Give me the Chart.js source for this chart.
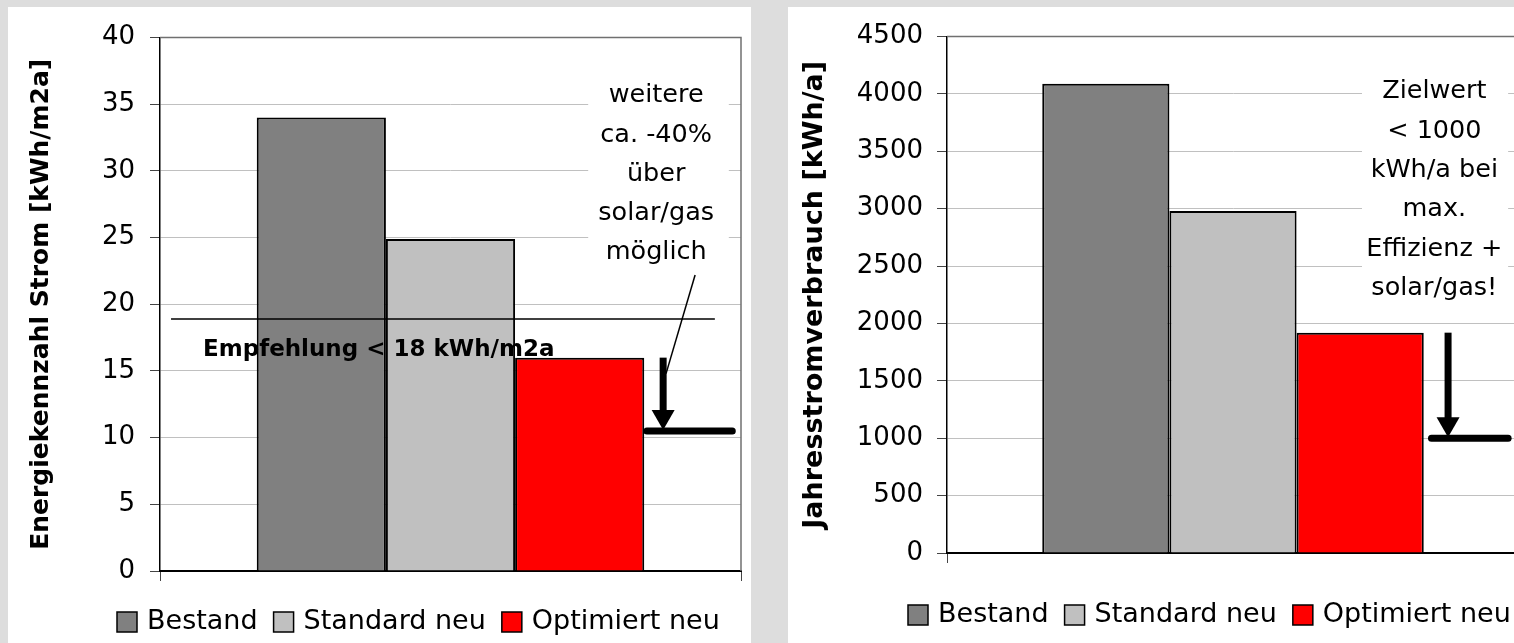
<!DOCTYPE html>
<html>
<head>
<meta charset="utf-8">
<script src="https://cdn.jsdelivr.net/npm/chart.js@4.4.1/dist/chart.umd.min.js"></script>
<style>
  html, body { margin:0; padding:0; background:#dddddd; width:1514px; height:643px; overflow:hidden; }
  .panel { position:absolute; top:7px; height:636px; background:#ffffff; overflow:hidden; }
  #p1 { left:8px; width:743px; }
  #p2 { left:788px; width:726px; }
  canvas { display:block; }
</style>
</head>
<body>
<div id="p1" class="panel"><canvas id="c1" width="743" height="636" style="width:743px;height:636px"></canvas></div>
<div id="p2" class="panel"><canvas id="c2" width="745" height="636" style="width:745px;height:636px"></canvas></div>
<script>
// ---------- data ----------
const categories = [''];
const seriesLabels = ['Bestand', 'Standard neu', 'Optimiert neu'];

const kennzahlValues = [34, 24.9, 16];          // kWh/m2a
const kennzahlTicks = { min: 0, max: 40, step: 5 };
const kennzahlTitle = 'Energiekennzahl Strom [kWh/m2a]';
const empfehlungValue = 18.9;
const empfehlungLabel = 'Empfehlung < 18 kWh/m2a';
const kennzahlTarget = 10.5;
const kennzahlNote = ['weitere', 'ca. -40%', 'über', 'solar/gas', 'möglich'];

const verbrauchValues = [4090, 2980, 1920];     // kWh/a
const verbrauchTicks = { min: 0, max: 4500, step: 500 };
const verbrauchTitle = 'Jahresstromverbrauch [kWh/a]';
const verbrauchTarget = 1000;
const verbrauchNote = ['Zielwert', '< 1000', 'kWh/a bei', 'max.', 'Effizienz +', 'solar/gas!'];

// ---------- styles ----------
const seriesColors = ['#808080', '#c0c0c0', '#ff0000'];
const FONT = "'DejaVu Sans', 'Liberation Sans', Arial, sans-serif";

function makeDatasets(values) {
  return seriesLabels.map((lbl, i) => ({
    label: lbl,
    data: [values[i]],
    backgroundColor: seriesColors[i],
    borderColor: '#000000',
    borderWidth: 2,
    categoryPercentage: 0.667,
    barPercentage: 1.0
  }));
}

function annotPlugin(o) {
  return {
    id: 'annot' + o.key,
    beforeDatasetsDraw(chart) {
      const { ctx, chartArea: a } = chart;
      const w = a.right - a.left;
      ctx.save();
      // plot-area border (top & right)
      ctx.strokeStyle = '#707070';
      ctx.lineWidth = 1.5;
      ctx.beginPath();
      ctx.moveTo(a.left, a.top); ctx.lineTo(a.right, a.top); ctx.lineTo(a.right, a.bottom);
      ctx.stroke();
      // white box behind note
      ctx.fillStyle = '#ffffff';
      const bx0 = a.left + o.box.x0 * w, bx1 = a.left + o.box.x1 * w;
      ctx.fillRect(bx0, a.top + o.box.y0, bx1 - bx0, o.box.y1 - o.box.y0);
      ctx.restore();
    },
    afterDatasetsDraw(chart) {
      const { ctx, chartArea: a, scales } = chart;
      const y = scales.y;
      const w = a.right - a.left;
      const fx = f => a.left + f * w;
      ctx.save();
      // reference line + label
      if (o.ref) {
        const ry = y.getPixelForValue(o.ref.value);
        ctx.strokeStyle = '#000'; ctx.lineWidth = 1.5;
        ctx.beginPath(); ctx.moveTo(fx(o.ref.x0), ry); ctx.lineTo(fx(o.ref.x1), ry); ctx.stroke();
        ctx.fillStyle = '#000';
        ctx.font = 'bold 23px ' + FONT;
        ctx.textAlign = 'left'; ctx.textBaseline = 'alphabetic';
        ctx.fillText(o.ref.label, fx(o.ref.tx), ry + o.ref.dy);
      }
      // leader line
      if (o.leader) {
        ctx.strokeStyle = '#000'; ctx.lineWidth = 1.5;
        ctx.beginPath();
        ctx.moveTo(fx(o.leader.x0), y.getPixelForValue(o.leader.v0));
        ctx.lineTo(fx(o.leader.x1), y.getPixelForValue(o.leader.v1));
        ctx.stroke();
      }
      // arrow from optimised bar top to target
      const ty = y.getPixelForValue(o.target);
      const sy = y.getPixelForValue(o.from);
      const ax = fx(o.arrowX);
      ctx.strokeStyle = '#000'; ctx.fillStyle = '#000';
      ctx.lineWidth = 7; ctx.lineCap = 'butt';
      ctx.beginPath(); ctx.moveTo(ax, sy); ctx.lineTo(ax, ty - 16); ctx.stroke();
      ctx.beginPath(); ctx.moveTo(ax - 11.5, ty - 21); ctx.lineTo(ax + 11.5, ty - 21); ctx.lineTo(ax, ty - 1); ctx.closePath(); ctx.fill();
      // target line
      ctx.lineWidth = 7; ctx.lineCap = 'round';
      ctx.beginPath(); ctx.moveTo(fx(o.tgt.x0), ty); ctx.lineTo(fx(o.tgt.x1), ty); ctx.stroke();
      // note text
      ctx.font = '25.5px ' + FONT;
      ctx.textAlign = 'center'; ctx.textBaseline = 'middle';
      o.note.forEach((t, i) => ctx.fillText(t, fx(o.noteX), a.top + o.noteY0 + i * o.noteDY));
      // legend
      ctx.font = '27px ' + FONT;
      ctx.textAlign = 'left'; ctx.textBaseline = 'alphabetic';
      let lx = o.legend.x;
      chart.data.datasets.forEach(ds => {
        ctx.fillStyle = ds.backgroundColor;
        ctx.fillRect(lx, o.legend.boxTop, 20, 20);
        ctx.strokeStyle = '#000'; ctx.lineWidth = 1.5; ctx.lineCap = 'butt';
        ctx.strokeRect(lx, o.legend.boxTop, 20, 20);
        ctx.fillStyle = '#000';
        ctx.fillText(ds.label, lx + 30, o.legend.baseline);
        lx += 30 + ctx.measureText(ds.label).width + 16;
      });
      ctx.restore();
    }
  };
}

function makeChart(id, values, ticks, title, L, plugin) {
  return new Chart(document.getElementById(id), {
    type: 'bar',
    data: { labels: categories, datasets: makeDatasets(values) },
    options: {
      responsive: false,
      animation: false,
      events: [],
      layout: { padding: { left: 0, top: L.top, right: L.right, bottom: L.bottom } },
      plugins: { legend: { display: false }, tooltip: { enabled: false }, title: { display: false } },
      scales: {
        x: {
          grid: { display: true, drawOnChartArea: false, drawTicks: true, tickLength: 10, tickColor: '#444', offset: true },
          border: { display: true, color: '#000', width: 2 },
          ticks: { display: false },
          afterFit: s => { s.height = 12; }
        },
        y: {
          min: ticks.min, max: ticks.max,
          ticks: { stepSize: ticks.step, color: '#000', font: { family: FONT, size: 26 }, padding: L.tickPad,
                   callback: v => String(v) },
          grid: { color: '#c0c0c0', lineWidth: 1, tickLength: 10, tickColor: '#444' },
          border: { display: true, color: '#000', width: 1.5 },
          title: { display: true, text: title, color: '#000', font: { family: FONT, size: L.titleSize, weight: 'bold' }, padding: { top: L.titlePad, bottom: 0 } },
          afterFit: s => { s.width = L.yWidth; }
        }
      }
    },
    plugins: [plugin]
  });
}

makeChart('c1', kennzahlValues, kennzahlTicks, kennzahlTitle,
  { top: 28, right: 10, bottom: 60, yWidth: 152, tickPad: 15, titlePad: 18, titleSize: 25 },
  annotPlugin({
    key: 1,
    box: { x0: 0.737, x1: 0.979, y0: 38, y1: 236 },
    ref: { value: empfehlungValue, x0: 0.019, x1: 0.955, label: empfehlungLabel, tx: 0.074, dy: 37 },
    leader: { x0: 0.921, v0: 22.2, x1: 0.871, v1: 14.8 },
    from: kennzahlValues[2], target: kennzahlTarget, arrowX: 0.866,
    tgt: { x0: 0.838, x1: 0.985 },
    note: kennzahlNote, noteX: 0.854, noteY0: 58, noteDY: 39.3,
    legend: { x: 109, boxTop: 605, baseline: 622 }
  }));

makeChart('c2', verbrauchValues, verbrauchTicks, verbrauchTitle,
  { top: 28, right: 14, bottom: 78, yWidth: 159, tickPad: 14, titlePad: 11, titleSize: 27 },
  annotPlugin({
    key: 2,
    box: { x0: 0.7255, x1: 0.981, y0: 35, y1: 270 },
    ref: null, leader: null,
    from: verbrauchValues[2], target: verbrauchTarget, arrowX: 0.876,
    tgt: { x0: 0.847, x1: 0.981 },
    note: verbrauchNote, noteX: 0.852, noteY0: 55, noteDY: 39.4,
    legend: { x: 120, boxTop: 598, baseline: 615 }
  }));
</script>
</body>
</html>
